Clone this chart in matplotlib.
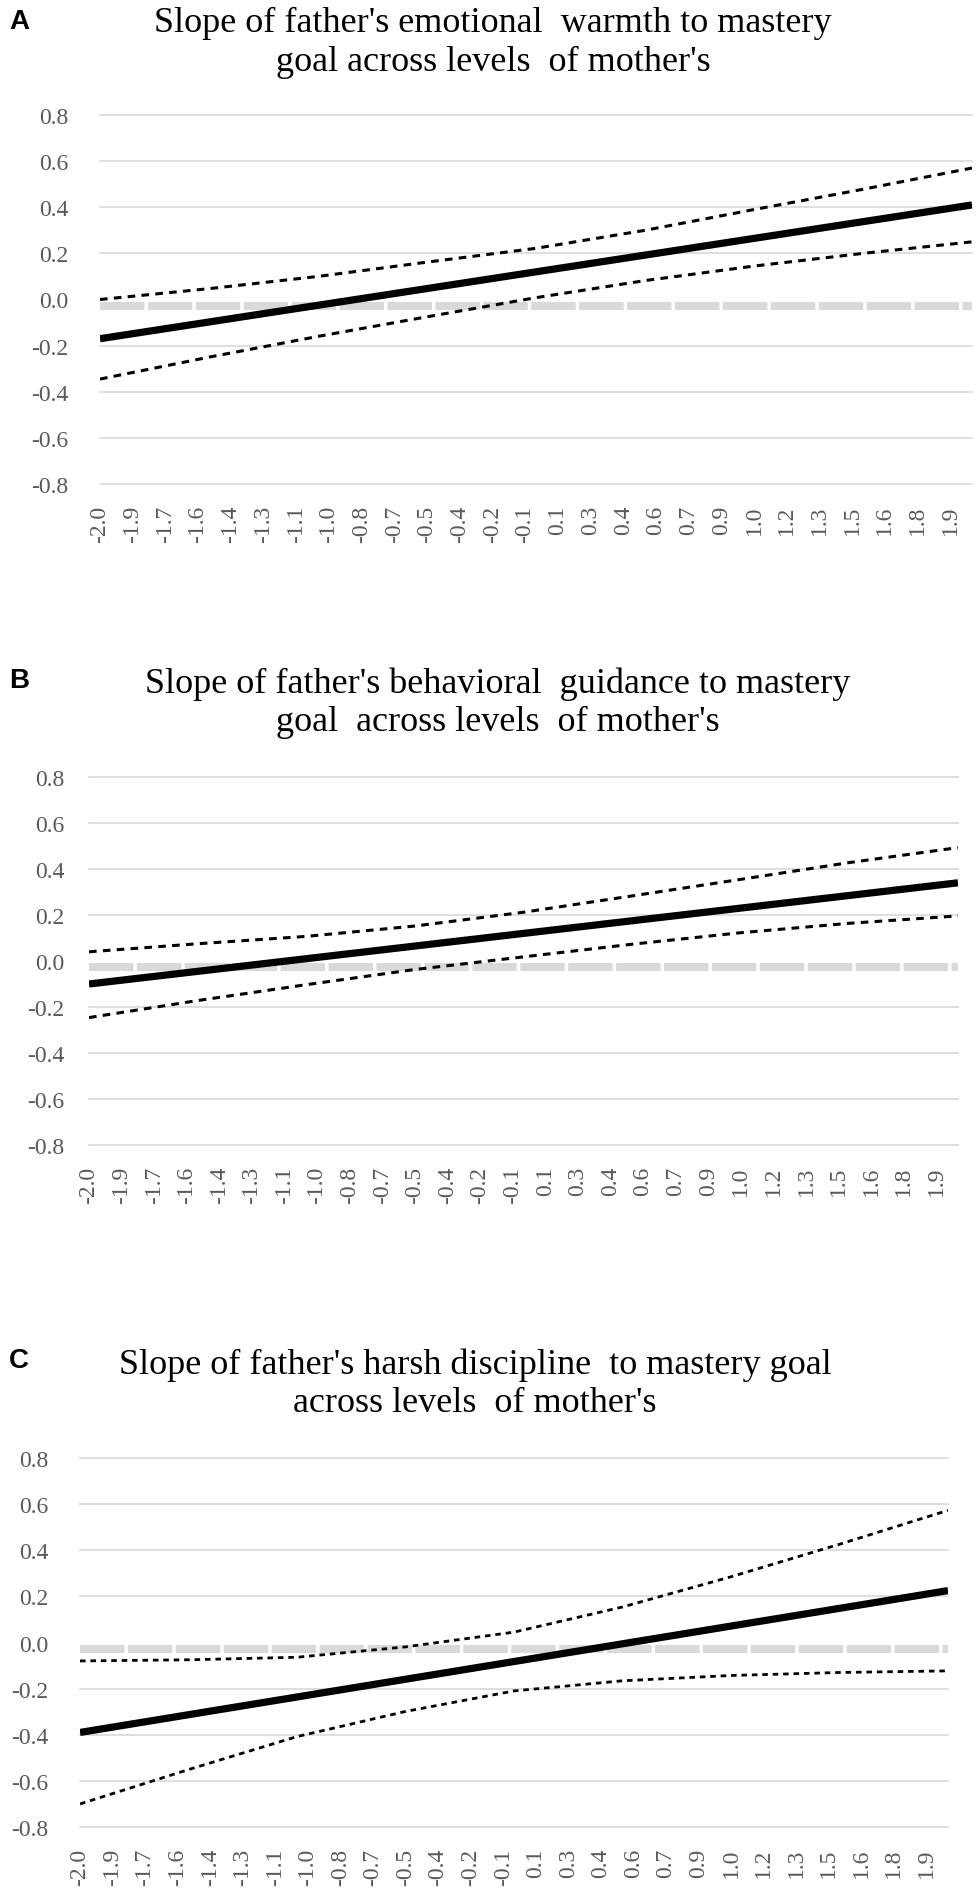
import matplotlib
matplotlib.use("Agg")
import matplotlib.pyplot as plt
import matplotlib.transforms as mtransforms

plt.rcParams["lines.scale_dashes"] = False

# ---------------- data ----------------
X_READ = [-2.0, -1.5, -1.0, -0.5, 0.0, 0.5, 1.0, 1.5, 2.0]
MAIN_X = [-2.0, 2.0]

A_main = [-0.17, 0.41]
A_upper = [0.00, 0.047, 0.10, 0.162, 0.222, 0.30, 0.39, 0.478, 0.57]
A_lower = [-0.345, -0.25, -0.16, -0.075, 0.008, 0.082, 0.145, 0.20, 0.25]

B_main = [-0.10, 0.34]
B_upper = [0.04, 0.075, 0.107, 0.152, 0.212, 0.283, 0.355, 0.428, 0.493]
B_lower = [-0.246, -0.172, -0.103, -0.037, 0.018, 0.073, 0.123, 0.164, 0.196]

C_main = [-0.39, 0.225]
C_upper = [-0.08, -0.075, -0.064, -0.019, 0.045, 0.154, 0.285, 0.426, 0.573]
C_lower = [-0.70, -0.551, -0.408, -0.299, -0.21, -0.166, -0.143, -0.13, -0.123]

MOD_TICKS = [-2.0, -1.85, -1.7, -1.55, -1.4, -1.25, -1.1, -0.95, -0.8, -0.65,
             -0.5, -0.35, -0.2, -0.05, 0.1, 0.25, 0.4, 0.55, 0.7, 0.85, 1.0,
             1.15, 1.3, 1.45, 1.6, 1.75, 1.9]
MOD_LABELS = ["-2.0", "-1.9", "-1.7", "-1.6", "-1.4", "-1.3", "-1.1", "-1.0",
              "-0.8", "-0.7", "-0.5", "-0.4", "-0.2", "-0.1", "0.1", "0.3",
              "0.4", "0.6", "0.7", "0.9", "1.0", "1.2", "1.3", "1.5", "1.6",
              "1.8", "1.9"]
Y_TICKS = [-0.8, -0.6, -0.4, -0.2, 0.0, 0.2, 0.4, 0.6, 0.8]
Y_LABELS = ["-0.8", "-0.6", "-0.4", "-0.2", "0.0", "0.2", "0.4", "0.6", "0.8"]

TITLES = [
    "Slope of father's emotional  warmth to mastery\ngoal across levels  of mother's",
    "Slope of father's behavioral  guidance to mastery\ngoal  across levels  of mother's",
    "Slope of father's harsh discipline  to mastery goal\nacross levels  of mother's",
]
LETTERS = ["A", "B", "C"]

# ---------------- layout (pixels of a 976 x 1899 canvas) ----------------
W, H = 976, 1899
fig = plt.figure(figsize=(W / 100, H / 100), dpi=100)

panels = [
    dict(x0=100, x1=972, ytop=116, ybot=485, title_y=43, title_x=493,
         letter_y=22, ypad=23, main=A_main, up=A_upper, lo=A_lower,
         dash=(5.5, 4.5), cilw=2.2),
    dict(x0=89, x1=958, ytop=778, ybot=1146, title_y=703, title_x=498,
         letter_y=681, ypad=18, main=B_main, up=B_upper, lo=B_lower,
         dash=(5.5, 4.5), cilw=2.2),
    dict(x0=80, x1=948, ytop=1459, ybot=1828, title_y=1384, title_x=475,
         letter_y=1361, ypad=23, main=C_main, up=C_upper, lo=C_lower,
         dash=(4.0, 3.5), cilw=2.0),
]

serif = "Liberation Serif"
for i, p in enumerate(panels):
    ax = fig.add_axes([p["x0"] / W, 1 - p["ybot"] / H,
                       (p["x1"] - p["x0"]) / W, (p["ybot"] - p["ytop"]) / H])
    ax.set_xlim(-2.0, 2.0)
    ax.set_ylim(-0.8, 0.8)
    for s in ax.spines.values():
        s.set_visible(False)

    # gridlines
    for yv in Y_TICKS:
        if yv == 0.0:
            continue
        ax.axhline(yv, color="#d9d9d9", lw=1.2, clip_on=False, zorder=1)
    # zero axis band (thick light gray, slightly below 0)
    off = mtransforms.ScaledTranslation(0, -0.06, fig.dpi_scale_trans)
    ax.plot([0, 1], [0, 0], transform=ax.get_yaxis_transform() + off,
            color="#d9d9d9", lw=5.8, dashes=(32, 2.5), solid_capstyle="butt",
            dash_capstyle="butt", zorder=2, clip_on=False)

    # confidence bands and slope line
    ax.plot(X_READ, p["up"], color="black", lw=p["cilw"], dashes=p["dash"],
            zorder=3)
    ax.plot(X_READ, p["lo"], color="black", lw=p["cilw"], dashes=p["dash"],
            zorder=3)
    ax.plot(MAIN_X, p["main"], color="black", lw=5.2, zorder=4,
            solid_capstyle="butt")

    ax.set_yticks(Y_TICKS)
    ax.set_yticklabels(Y_LABELS, fontsize=17, color="#595959", family=serif)
    ax.set_xticks(MOD_TICKS)
    ax.set_xticklabels(MOD_LABELS, fontsize=17, color="#595959", family=serif,
                       rotation=90, va="top", ha="center")
    ax.tick_params(axis="y", length=0, pad=p["ypad"])
    ax.tick_params(axis="x", length=0, pad=15)

    fig.text(p["title_x"] / W, 1 - p["title_y"] / H, TITLES[i],
             ha="center", va="center", fontsize=26, family=serif,
             color="black", linespacing=1.2)
    fig.text(19 / W, 1 - p["letter_y"] / H, LETTERS[i], ha="center",
             va="center", fontsize=20, fontweight="bold",
             family="Liberation Sans", color="black")

fig.savefig("out.png", dpi=100, facecolor="white")
